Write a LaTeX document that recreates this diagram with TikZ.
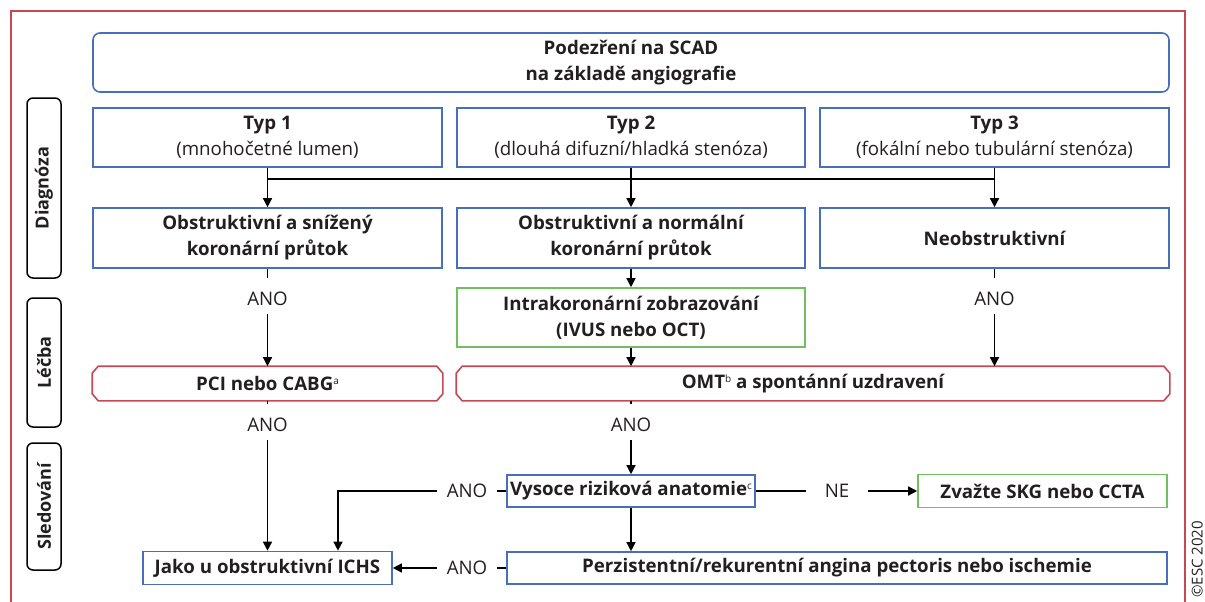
\documentclass[tikz,border=0pt]{standalone}
\usepackage{fontspec}
\setmainfont{Open Sans}
\usepackage{xcolor}
\usetikzlibrary{arrows.meta,positioning}
\definecolor{escred}{RGB}{200,72,82}
\definecolor{escblue}{RGB}{72,110,190}
\definecolor{escgreen}{RGB}{112,192,96}
\definecolor{esctext}{RGB}{35,31,32}
\newcommand{\boxfont}{\fontsize{18.7}{26}\selectfont}
\newcommand{\fnmark}[1]{\raisebox{6pt}{\fontsize{10}{10}\selectfont\mdseries #1}}
\newcommand{\chamferbox}[1]{%
  \draw[escred, line width=1.6pt] ([xshift=6pt]#1.north west) -- ([xshift=-6pt]#1.north east)
    -- ([yshift=-7pt]#1.north east) -- ([yshift=7pt]#1.south east) -- ([xshift=-6pt]#1.south east)
    -- ([xshift=6pt]#1.south west) -- ([yshift=7pt]#1.south west) -- ([yshift=-7pt]#1.north west) -- cycle;}

\begin{document}
\begin{tikzpicture}[x=1pt, y=-1pt,
    every node/.append style={text=esctext},
    box/.style={draw=escblue, line width=1.6pt, minimum height=59pt, align=center, font=\boxfont\bfseries},
    rbox/.style={box, rounded corners=7pt},
    greenbox/.style={box, draw=escgreen},
    redbox/.style={box, draw=none, minimum height=33pt},
    cat/.style={draw=black, line width=1.5pt, rounded corners=6pt, rotate=90, minimum height=34pt, inner sep=0pt, font=\fontsize{18}{20}\selectfont\bfseries},
    lblv/.style={inner xsep=2pt, inner ysep=8pt, font=\boxfont},
    lblh/.style={inner xsep=10pt, inner ysep=2pt, font=\boxfont},
    line/.style={draw=black, line width=1.4pt},
    tick/.style={line, shorten >=6pt},
    arr/.style={line, -{Triangle[width=9pt,length=9pt]}}
]
\useasboundingbox (0,0) rectangle (1205,602);

% rámeček
\draw[escred, line width=1.5pt] (11,602) -- (11,11) -- (1185,11) -- (1185,602);

% kategorie vlevo
\node[cat, minimum width=180pt] (diag) at (44,188) {Diagnóza};
\node[cat, minimum width=129pt] (lecba) at (44,362.5) {Léčba};
\node[cat, minimum width=127pt] (sled) at (44,506.5) {Sledování};

% Podezření
\node[rbox, minimum width=1076pt] (scad) at (631,62.5) {Podezření na SCAD\\na základě angiografie};

% Typy
\node[box, minimum width=349pt] (typ1) at (267.5,137.5) {Typ 1\\\mdseries(mnohočetné lumen)};
\node[box, minimum width=348pt] (typ2) at (631,137.5) {Typ 2\\\mdseries(dlouhá difuzní/hladká stenóza)};
\node[box, minimum width=349pt] (typ3) at (994.5,137.5) {Typ 3\\\mdseries(fokální nebo tubulární stenóza)};

% Průtok
\node[box, minimum width=349pt, minimum height=60pt] (obs1) at (267.5,238) {Obstruktivní a snížený\\koronární průtok};
\node[box, minimum width=348pt, minimum height=60pt] (obs2) at (631,238) {Obstruktivní a normální\\koronární průtok};
\node[box, minimum width=349pt, minimum height=60pt] (neobs) at (994.5,238) {Neobstruktivní};

% Zobrazování
\node[greenbox, minimum width=348pt] (intra) at (631,317.5) {Intrakoronární zobrazování\\(IVUS nebo OCT)};

% Léčba
\node[redbox, minimum width=349pt] (pci) at (267.5,383.5) {PCI nebo CABG\fnmark{a}};
\node[redbox, minimum width=712pt] (omt) at (813,383.5) {OMT\fnmark{b} a spontánní uzdravení};
\chamferbox{pci}
\chamferbox{omt}

% Sledování
\node[box, minimum width=248pt, minimum height=32pt] (vysoce) at (631,491) {Vysoce riziková anatomie\fnmark{c}};
\node[greenbox, minimum width=249pt, minimum height=33pt] (zvazte) at (1042.5,491) {Zvažte SKG nebo CCTA};
\node[box, minimum width=660pt, minimum height=32pt] (perz) at (837,568) {Perzistentní/rekurentní angina pectoris nebo ischemie};
\node[box, minimum width=249pt, minimum height=33pt] (jako) at (267.5,568) {Jako u obstruktivní ICHS};

% popisky
\node[lblv] (ano1) at (267.5,299) {ANO};
\node[lblv] (ano2) at (267.5,425) {ANO};
\node[lblv] (ano3) at (631,425) {ANO};
\node[lblv] (ano4) at (994.5,299) {ANO};
\node[lblh] (ano5) at (467,491) {ANO};
\node[lblh] (ano6) at (467,568) {ANO};
\node[lblh, inner xsep=19pt] (ne) at (837,491) {NE};

% větvení typů
\coordinate (bus1) at (267.5,179);
\coordinate (bus3) at (994.5,179);
\draw[line] (typ1.south) -- (bus1);
\draw[line] (typ2.south) -- (typ2.south |- bus1);
\draw[line] (typ3.south) -- (bus3);
\draw[line] (bus1) -- (bus3);
\draw[arr] (bus1) -- (obs1.north);
\draw[arr] (typ2.south |- bus1) -- (obs2.north);
\draw[arr] (bus3) -- (neobs.north);

% do léčby
\draw[tick] (obs1.south) -- (ano1.north);
\draw[arr] (ano1.south) -- (pci.north);
\draw[arr] (obs2.south) -- (intra.north);
\draw[arr] (intra.south) -- (intra.south |- omt.north);
\draw[tick] (neobs.south) -- (ano4.north);
\draw[arr] (ano4.south) -- (ano4.south |- omt.north);

% do sledování
\draw[tick] (pci.south) -- (ano2.north);
\draw[arr] (ano2.south) -- (jako.north);
\draw[tick] (ano3.north |- omt.south) -- (ano3.north);
\draw[arr] (ano3.south) -- (vysoce.north);
\draw[line] (vysoce.west) -- (ano5.east);
\draw[arr] (ano5.west) -| ([xshift=70.5pt]jako.north);
\draw[line] (vysoce.east) -- (ne.west);
\draw[arr] (ne.east) -- (zvazte.west);
\draw[arr] (vysoce.south) -- (vysoce.south |- perz.north);
\draw[line] (perz.west) -- (ano6.east);
\draw[arr] (ano6.west) -- (jako.east);

% copyright
\node[rotate=90, anchor=south west, inner sep=0pt, font=\fontsize{15}{15}\selectfont] (esc) at (1203,598) {©ESC 2020};

\end{tikzpicture}
\end{document}
